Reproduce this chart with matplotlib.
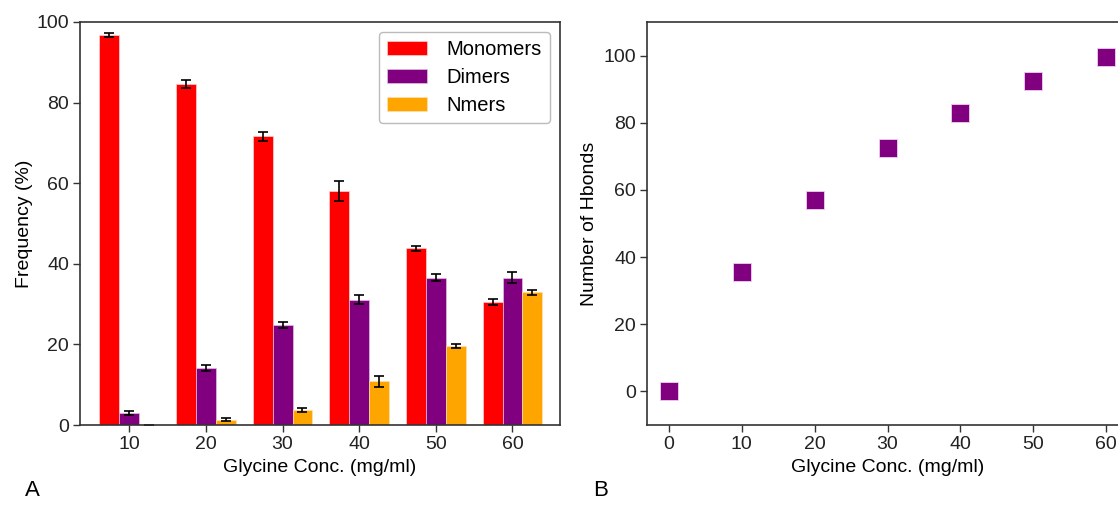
import matplotlib
matplotlib.use("Agg")
import matplotlib.pyplot as plt
import numpy as np

plt.rcParams["font.family"] = ["Liberation Sans", "DejaVu Sans"]

# panel A data
conc_labels = ["10", "20", "30", "40", "50", "60"]
monomers = [96.8, 84.5, 71.6, 58.0, 43.8, 30.5]
monomers_err = [0.4, 1.0, 1.2, 2.5, 0.6, 0.7]
dimers = [3.0, 14.2, 24.8, 31.1, 36.6, 36.6]
dimers_err = [0.4, 0.8, 0.8, 1.1, 0.9, 1.3]
nmers = [0.1, 1.3, 3.7, 10.8, 19.7, 32.9]
nmers_err = [0.0, 0.4, 0.5, 1.4, 0.5, 0.7]

# panel B data
conc_b = [0, 10, 20, 30, 40, 50, 60]
hbonds = [0, 35.5, 57, 72.5, 83, 92.5, 99.5]

W, H = 1118, 505
fig = plt.figure(figsize=(W / 100, H / 100), dpi=100)

spine_col = "#333333"

## panel A
ax1 = fig.add_axes([80 / W, 80 / H, (560 - 80) / W, (425 - 22) / H])
x = np.arange(len(conc_labels))
bw = 0.26
err_kw = dict(ecolor="black", capsize=3.5, elinewidth=1.2, capthick=1.2)
ax1.bar(x - bw, monomers, bw, yerr=monomers_err, color="red", edgecolor="#ffd0d0",
        linewidth=0.5, label="Monomers", error_kw=err_kw)
ax1.bar(x, dimers, bw, yerr=dimers_err, color="purple", edgecolor="#e0c0e0",
        linewidth=0.5, label="Dimers", error_kw=err_kw)
ax1.bar(x + bw, nmers, bw, yerr=nmers_err, color="orange", edgecolor="#ffe0b0",
        linewidth=0.5, label="Nmers", error_kw=err_kw)
ax1.set_xticks(x)
ax1.set_xticklabels(conc_labels)
ax1.set_xlim(-0.643, 5.62)
ax1.set_ylim(0, 100)
ax1.set_yticks([0, 20, 40, 60, 80, 100])
ax1.set_xlabel("Glycine Conc. (mg/ml)", fontsize=14, labelpad=4)
ax1.set_ylabel("Frequency (%)", fontsize=14, labelpad=2.5)
leg = ax1.legend(loc="upper right", fontsize=14.5, handlelength=2.0, handleheight=0.7,
                 handletextpad=0.95, borderpad=0.4, labelspacing=0.45)
leg.get_frame().set_edgecolor("#aaaaaa")

## panel B
ax2 = fig.add_axes([647 / W, 80 / H, (1128 - 647) / W, (425 - 22) / H])
ax2.scatter(conc_b, hbonds, marker="s", s=180, color="purple", edgecolor="#f0d0f0",
            linewidth=0.6, zorder=3, clip_on=False)
ax2.set_xlim(-3, 63)
ax2.set_ylim(-10, 110)
ax2.set_xticks(conc_b)
ax2.set_yticks([0, 20, 40, 60, 80, 100])
ax2.set_xlabel("Glycine Conc. (mg/ml)", fontsize=14, labelpad=4)
ax2.set_ylabel("Number of Hbonds", fontsize=14, labelpad=4)

for ax in (ax1, ax2):
    for sp in ax.spines.values():
        sp.set_color(spine_col)
        sp.set_linewidth(1.2)
    ax.tick_params(labelsize=14, length=5, width=1, pad=3, colors=spine_col,
                   labelcolor="#222222")

fig.text(25 / W, 1 - 491 / H, "A", fontsize=16, va="center", ha="left")
fig.text(593 / W, 1 - 491 / H, "B", fontsize=16, va="center", ha="left")

fig.savefig("out.png", dpi=100)
